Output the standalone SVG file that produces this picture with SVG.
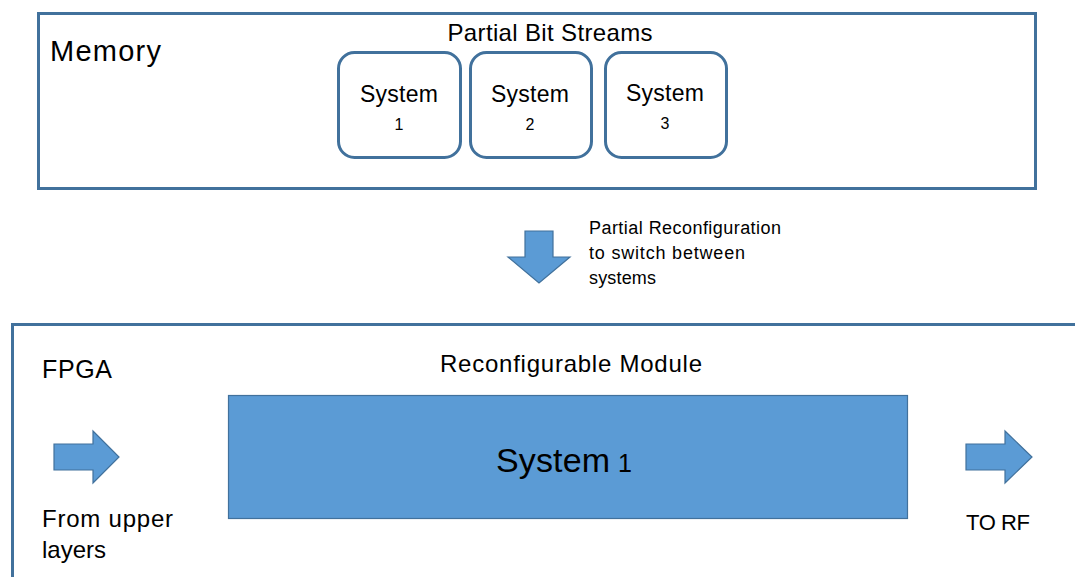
<svg xmlns="http://www.w3.org/2000/svg" width="1075" height="577" viewBox="0 0 1075 577">
<style>
.frame{fill:#fff;stroke:#41719C;stroke-width:3}
.sys{fill:#fff;stroke:#41719C;stroke-width:3}
.blue{fill:#5B9BD5;stroke:#41719C;stroke-width:1.2}
text{font-family:"Liberation Sans",Arial,sans-serif;fill:#000}
.lbl{font-size:23px}
.big{font-size:29px}
.small{font-size:16px}
.note{font-size:18px}
</style>
<rect width="1075" height="577" fill="#fff"/>
<g id="memory">
<rect class="frame" x="38.5" y="13.5" width="997" height="175"/>
<text class="big" x="50" y="61" textLength="111" lengthAdjust="spacing">Memory</text>
<text class="lbl" x="550" y="41" text-anchor="middle" textLength="205" lengthAdjust="spacing" style="font-size:24px">Partial Bit Streams</text>
</g>
<g id="system1-bitstream">
<rect class="sys" x="338.5" y="52.5" width="122" height="105" rx="16"/>
<text class="lbl" x="399" y="102" text-anchor="middle" textLength="78" lengthAdjust="spacing">System</text>
<text class="small" x="399" y="130" text-anchor="middle">1</text>
</g>
<g id="system2-bitstream">
<rect class="sys" x="470.5" y="52.5" width="121" height="105" rx="16"/>
<text class="lbl" x="530" y="102" text-anchor="middle" textLength="78" lengthAdjust="spacing">System</text>
<text class="small" x="530" y="130" text-anchor="middle">2</text>
</g>
<g id="system3-bitstream">
<rect class="sys" x="605.5" y="52.5" width="121" height="105" rx="16"/>
<text class="lbl" x="665" y="101" text-anchor="middle" textLength="78" lengthAdjust="spacing">System</text>
<text class="small" x="665" y="129" text-anchor="middle">3</text>
</g>
<g id="fpga">
<path class="frame" d="M1080,324.5 H12.5 V585" />
<text x="42" y="378" textLength="70" lengthAdjust="spacing" style="font-size:25px">FPGA</text>
<text x="571" y="372" text-anchor="middle" textLength="262" lengthAdjust="spacing" style="font-size:24px">Reconfigurable Module</text>
</g>
<g id="module">
<rect class="blue" x="228.5" y="395.5" width="679" height="123"/>
<text x="496" y="472" style="font-size:34px" textLength="114" lengthAdjust="spacing">System</text>
<text x="618" y="472" style="font-size:25px">1</text>
</g>
<g id="connectors">
<path class="blue" d="M525,231 H553 V257 H570 L539,283 L508,257 H525 Z"/>
<text class="note" x="589" y="234" textLength="192" lengthAdjust="spacing">Partial Reconfiguration</text>
<text class="note" x="589" y="259" textLength="156" lengthAdjust="spacing">to switch between</text>
<text class="note" x="589" y="284" textLength="67" lengthAdjust="spacing">systems</text>
<path class="blue" d="M54,444 H93 V431 L119,457 L93,483 V470 H54 Z"/>
<text x="42" y="527" textLength="131" lengthAdjust="spacing" style="font-size:24px">From upper</text>
<text x="42" y="558" textLength="64" lengthAdjust="spacing" style="font-size:24px">layers</text>
<path class="blue" d="M966,444 H1005 V431 L1032,457 L1005,483 V470 H966 Z"/>
<text x="966" y="530" style="font-size:22px" textLength="64" lengthAdjust="spacing">TO RF</text>
</g>
</svg>
